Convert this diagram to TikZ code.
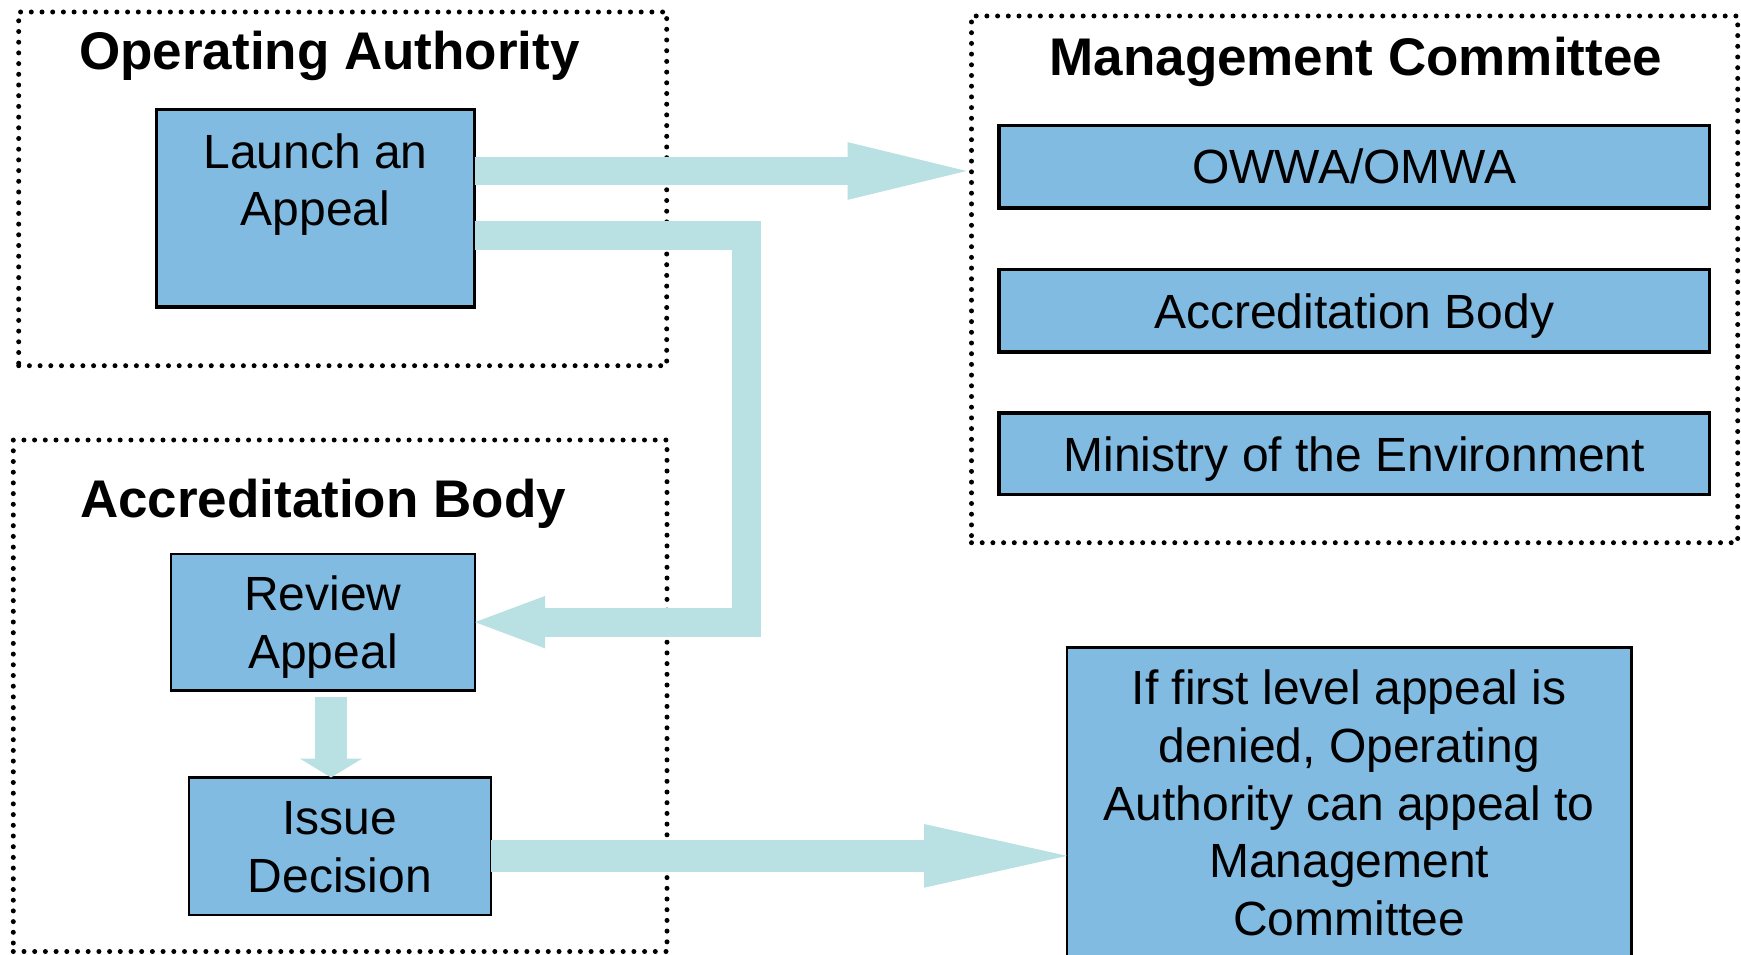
\documentclass[tikz,border=0pt]{standalone}
\usepackage{fontspec}
\setmainfont{Liberation Sans}
\usetikzlibrary{arrows.meta,calc}

\definecolor{boxblue}{RGB}{130,187,226}
\definecolor{flowteal}{RGB}{185,224,226}

\tikzset{
  group/.style={draw=black, line width=5pt, dash pattern=on 0pt off 10.7pt,
    line cap=round, inner sep=0pt, outer sep=0pt, anchor=north west},
  grouptitle/.style={font=\fontsize{53}{64}\selectfont\bfseries, anchor=base, inner sep=0pt},
  procbox/.style={draw=black, fill=boxblue, line width=3.5pt, inner sep=0pt,
    outer sep=0pt, anchor=north west, font=\fontsize{48}{57.6}\selectfont,
    text height=34.5pt, text depth=0pt},
  thinbox/.style={procbox, line width=2.5pt},
  flow/.style={draw=flowteal, line join=miter},
}

\begin{document}
\begin{tikzpicture}[x=1pt, y=-1pt]
  \useasboundingbox (0,0) rectangle (1741,955);
  \clip (0,0) rectangle (1741,955);

  % dotted group frames
  \node[group, minimum width=648pt, minimum height=353.7pt] (oa) at (18.7,12) {};
  \node[group, minimum width=653.7pt, minimum height=511.5pt] (ab) at (13.3,440) {};
  \node[group, minimum width=766.2pt, minimum height=526.7pt] (mc) at (971.5,16) {};

  % group titles
  \node[grouptitle] (oatitle) at (329.5,69.3) {Operating Authority};
  \node[grouptitle] (mctitle) at (1355.8,75.7) {Management Committee};
  \node[grouptitle] (abtitle) at (323,517.3) {Accreditation Body};

  % process boxes
  \node[procbox, minimum width=318.2pt, minimum height=197.2pt, text depth=114.3pt]
    (launch) at (156.5,109.6) {\begin{tabular}[t]{@{}c@{}}Launch an\\Appeal\end{tabular}};
  \node[procbox, minimum width=710.5pt, minimum height=82.5pt] (owwa) at (999,125.3) {OWWA/OMWA};
  \node[procbox, minimum width=710.5pt, minimum height=82.6pt] (abmember) at (999,269.6) {Accreditation Body};
  \node[procbox, minimum width=710.5pt, minimum height=81.5pt] (ministry) at (999,413) {Ministry of the Environment};
  \node[thinbox, minimum width=304pt, minimum height=136.3pt, text depth=57.6pt]
    (review) at (171,554) {\begin{tabular}[t]{@{}c@{}}Review\\Appeal\end{tabular}};
  \node[thinbox, minimum width=302pt, minimum height=137.5pt, text depth=57.6pt]
    (issue) at (188.8,777.5) {\begin{tabular}[t]{@{}c@{}}Issue\\Decision\end{tabular}};
  \node[thinbox, minimum width=564.5pt, minimum height=310.5pt, text depth=230.4pt]
    (note) at (1067,647.5) {\begin{tabular}[t]{@{}c@{}}If first level appeal is\\denied, Operating\\Authority can appeal to\\Management\\Committee\end{tabular}};

  % flow arrows
  \coordinate (f1s) at ([yshift=37.2pt]launch.east);
  \draw[flow, line width=28.6pt, shorten >=5pt,
    -{Triangle[width=57.8pt, length=119pt, line width=0pt]}]
    (f1s) -- (f1s -| mc.west);

  \coordinate (f2s) at ([yshift=-27.3pt]launch.east);
  \coordinate (bendx) at (746.9,400);
  \draw[flow, line width=29pt,
    -{Triangle[width=52.4pt, length=70pt, line width=0pt]}]
    (f2s) -| (bendx |- review.east) -- (review.east);

  \coordinate (f3s) at ([xshift=8pt, yshift=-6.4pt]review.south);
  \draw[flow, line width=32pt,
    -{Triangle[width=62.5pt, length=19pt, line width=0pt]}]
    (f3s) -- (f3s |- issue.north);

  \coordinate (f4s) at ([yshift=-9.6pt]issue.east);
  \draw[flow, line width=31.7pt,
    -{Triangle[width=63.7pt, length=143pt, line width=0pt]}]
    (f4s) -- (f4s -| note.west);
\end{tikzpicture}
\end{document}
